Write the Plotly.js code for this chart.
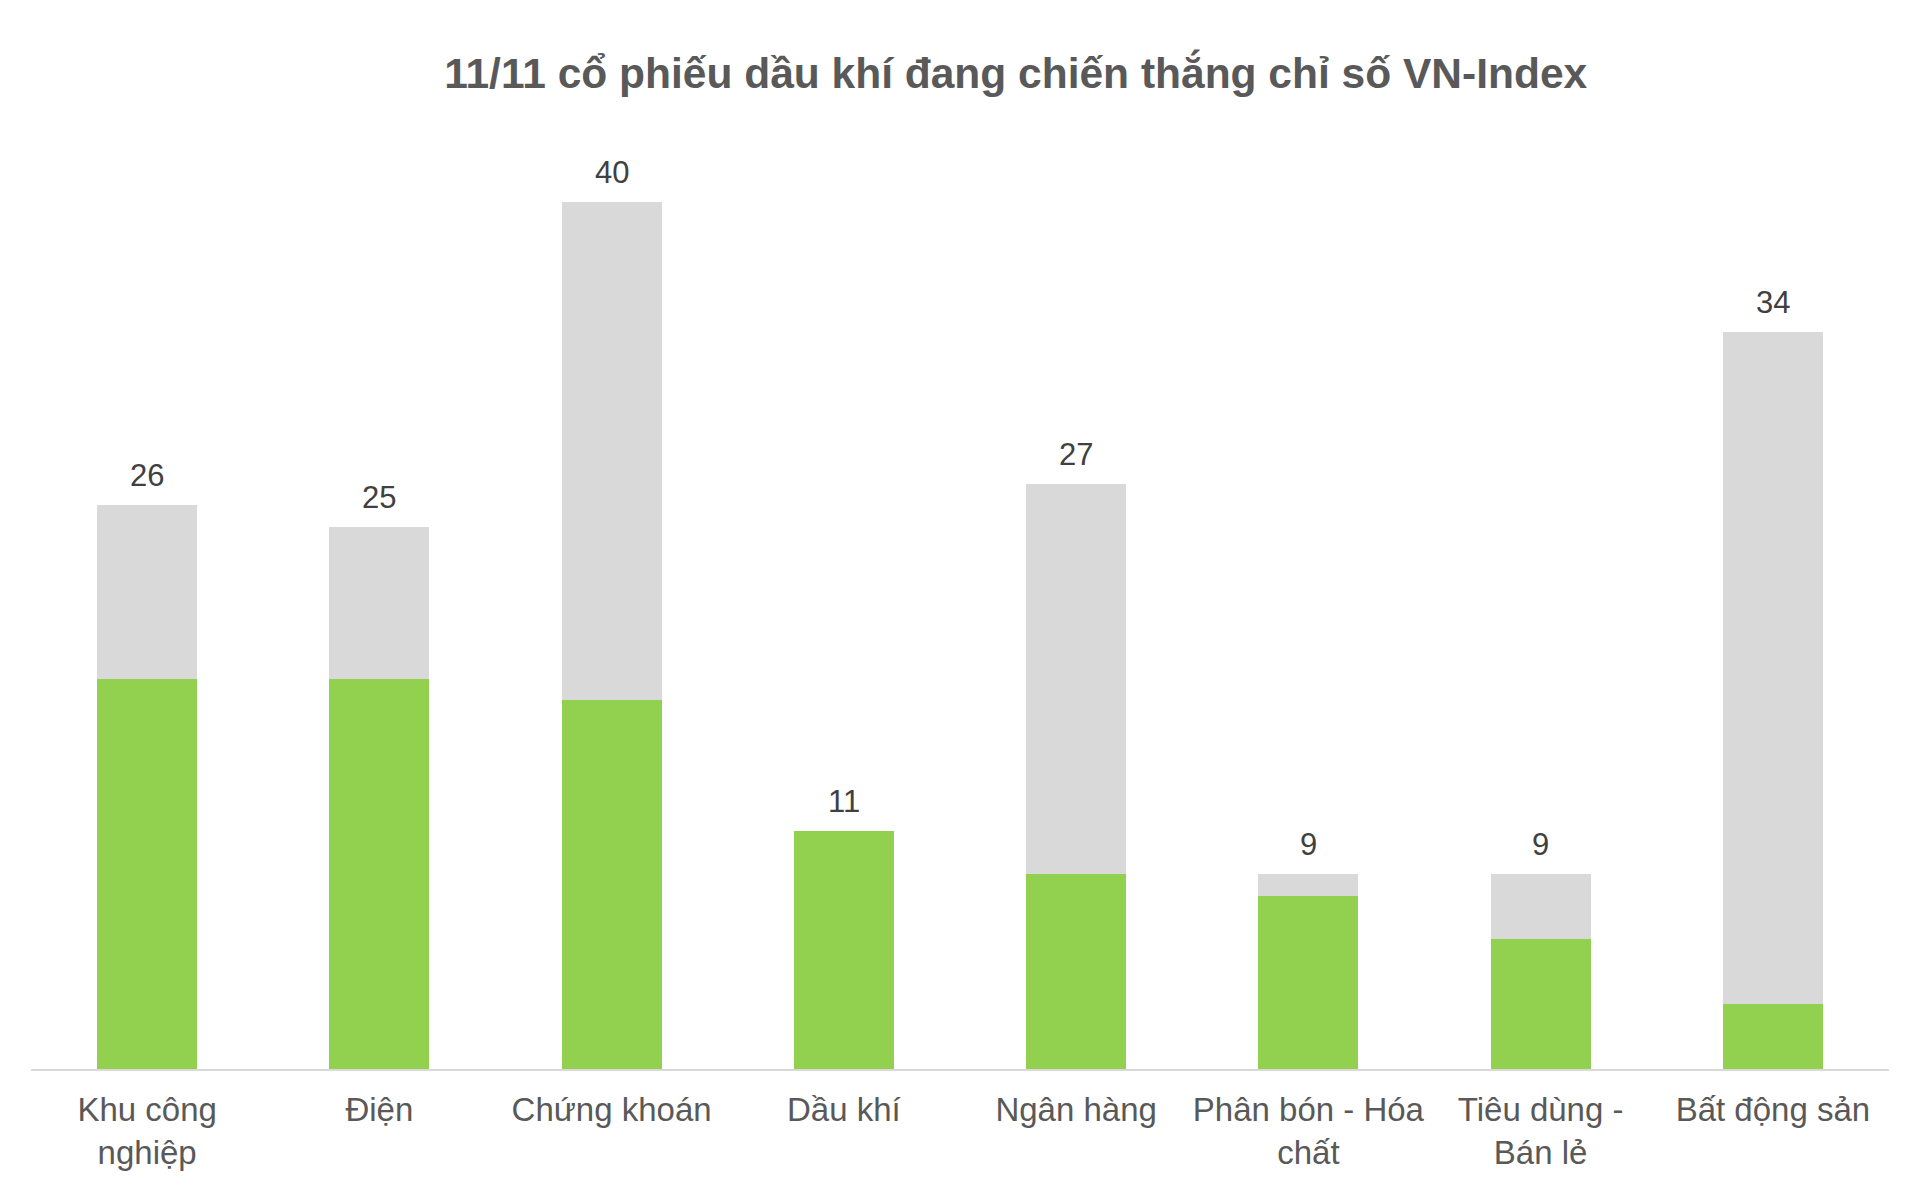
<!DOCTYPE html>
<html>
<head>
<meta charset="utf-8">
<script src="https://cdn.plot.ly/plotly-3.0.1.min.js"></script>
<style>
  html, body { margin: 0; padding: 0; background: #fff; }
  #chart { width: 1920px; height: 1200px; }
</style>
</head>
<body>
<div id="chart"></div>
<script>
// Sectors on the x axis
const categories = [
  "Khu công<br>nghiệp",
  "Điện",
  "Chứng khoán",
  "Dầu khí",
  "Ngân hàng",
  "Phân bón - Hóa<br>chất",
  "Tiêu dùng -<br>Bán lẻ",
  "Bất động sản",
];

// Stocks beating VN-Index (green part)
const winners = [18, 18, 17, 11, 9, 8, 6, 3];
// Remaining stocks (grey part)
const others = [8, 7, 23, 0, 18, 1, 3, 31];
// Totals shown above each bar
const totals = [26, 25, 40, 11, 27, 9, 9, 34];

const fontFamily = '"Liberation Sans", Arial, Helvetica, sans-serif';

let traces = [
  {
    type: "bar",
    x: categories,
    y: winners,
    marker: { color: "#92D050" },
    hoverinfo: "y",
  },
  {
    type: "bar",
    x: categories,
    y: others,
    marker: { color: "#D9D9D9" },
    hoverinfo: "y",
  },
];

// Total labels above stacks
let annotations = categories.map((c, i) => ({
  x: c,
  y: totals[i],
  xref: "x",
  yref: "y",
  text: String(totals[i]),
  showarrow: false,
  yanchor: "bottom",
  yshift: 10,
  font: { family: fontFamily, size: 31, color: "#404040" },
}));

let layout = {
  width: 1920,
  height: 1200,
  paper_bgcolor: "#ffffff",
  plot_bgcolor: "#ffffff",
  margin: { l: 31, r: 31, t: 160, b: 131 },
  barmode: "stack",
  bargap: 0.57,
  showlegend: false,
  title: {
    text: "<b>11/11 cổ phiếu dầu khí đang chiến thắng chỉ số VN-Index</b>",
    x: 0.529,
    xanchor: "center",
    xref: "container",
    y: 0.939,
    yanchor: "middle",
    yref: "container",
    font: { family: fontFamily, size: 42.5, color: "#595959" },
  },
  xaxis: {
    type: "category",
    showline: true,
    linecolor: "#D9D9D9",
    linewidth: 2,
    ticks: "",
    showgrid: false,
    zeroline: false,
    tickfont: { family: fontFamily, size: 33, color: "#595959" },
    ticklabelstandoff: 10,
  },
  yaxis: {
    range: [0, 41.93],
    visible: false,
    showgrid: false,
    zeroline: false,
  },
  annotations: annotations,
};

Plotly.newPlot("chart", traces, layout, { displayModeBar: false });
</script>
</body>
</html>
